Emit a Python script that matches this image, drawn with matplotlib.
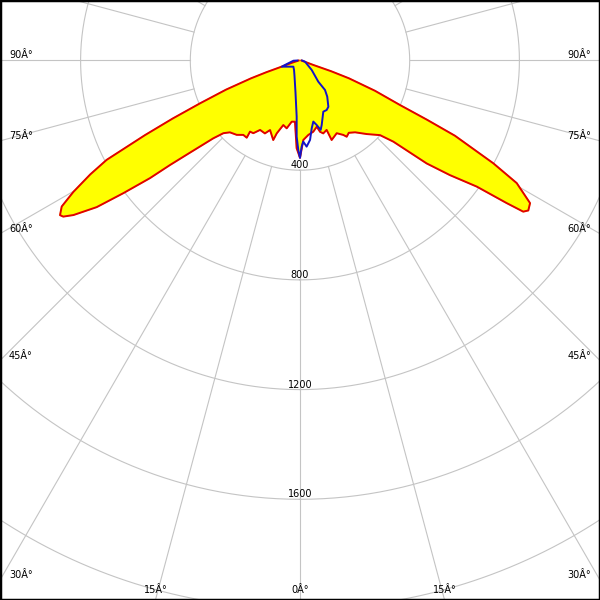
import numpy as np
import matplotlib
matplotlib.use('Agg')
import matplotlib.pyplot as plt
from matplotlib.patches import Rectangle

# luminous intensity (cd) against angle from nadir (deg)
# red plane, right half (C0) and left half (C180)
red_right_ang = [0, 2.4, 6.4, 10.6, 14.2, 15.7, 17.7, 21, 21.7, 26.8, 30.2, 31.5, 34, 37.5,
                 42.2, 47, 49, 50.9, 52.6, 54.5, 55.4, 55.9, 56.7, 58.2, 60.5, 62, 64.1,
                 65, 66, 68, 70, 71, 71.5, 75, 80, 90]
red_right_cd = [355, 290, 273, 264, 249, 270, 279, 271, 312, 297, 314, 326, 318, 330,
                362, 399, 451, 595, 688, 792, 916, 983, 996, 987, 908, 798, 628,
                510, 399, 295, 190, 120, 50, 20, 8, 5]
red_left_ang = [0, 1, 2.2, 4.7, 7.7, 11.1, 14.5, 17.7, 18.6, 23.3, 25.7, 29.9, 32.7, 35.1,
                34.6, 37.3, 40.4, 44.3, 46.5, 48.1, 50, 51.2, 51.9, 53.1, 54.2, 55.7, 56.6,
                57.2, 58.5, 59.9, 61.5, 62.8, 64.3, 65.5, 66.8, 68.5, 70, 70.8, 71.5, 75, 80, 90]
red_left_cd = [355, 338, 320, 224, 225, 252, 243, 279, 306, 276, 295, 292, 315, 317,
               342, 341, 356, 366, 385, 425, 520, 608, 695, 806, 914, 1000, 1034,
               1041, 1019, 955, 870, 793, 627, 510, 397, 290, 190, 130, 70, 25, 10, 5]

# blue plane, right half (C90) and left half (C270)
blue_right_ang = [0, 1.1, 2.3, 4.4, 7.2, 9.8, 12.3, 14.5, 16.6, 18.6, 24.5, 28.3, 31.5,
                  37, 40.3, 40.8, 51, 76.5, 90]
blue_right_cd = [355, 314, 296, 315, 292, 251, 228, 243, 264, 248, 205, 205, 198,
                 165, 141, 102, 55, 19, 8]
blue_left_ang = [0, 1.1, 2.5, 3.4, 8, 19.5, 32, 47, 71.3, 75, 88, 90]
blue_left_cd = [355, 326, 278, 205, 118, 60, 41, 33, 70, 50, 24, 10]

rings = [400, 800, 1200, 1600, 2000]
ring_labels = [400, 800, 1200, 1600]
angle_labels = [0, 15, 30, 45, 60, 75, 90]


def whole_curve(left_ang, left_cd, right_ang, right_cd):
    th = np.concatenate([-np.array(left_ang[::-1]), np.array(right_ang)])
    r = np.concatenate([np.array(left_cd[::-1]), np.array(right_cd)])
    return np.radians(th), r


W = 600
cx, cy = 300, 60.5          # pole position in pixels from top-left
px_per_cd = 109.7 / 400
rmax = 2400
rad_px = rmax * px_per_cd
grid_col = '#c4c4c4'

plt.rcParams['font.family'] = ['DejaVu Sans']
fig = plt.figure(figsize=(6, 6), dpi=100)
ax = fig.add_axes([(cx - rad_px) / W, (W - cy - rad_px) / W, 2 * rad_px / W, 2 * rad_px / W],
                  projection='polar')
ax.set_theta_zero_location('S')
ax.set_ylim(0, rmax)
ax.grid(False)
ax.set_xticks([])
ax.set_yticks([])
ax.spines['polar'].set_visible(False)

full = np.linspace(0, 2 * np.pi, 721)
for r in rings:
    ax.plot(full, np.full_like(full, r), color=grid_col, lw=0.8, zorder=1)
for a in range(0, 360, 15):
    ax.plot([np.radians(a)] * 2, [400, rmax], color=grid_col, lw=0.8, zorder=1)

th, r = whole_curve(red_left_ang, red_left_cd, red_right_ang, red_right_cd)
ax.fill(th, r, color='#ffff00', zorder=2)
ax.plot(th, r, color='#e00000', lw=1.4, zorder=3)

th, r = whole_curve(blue_left_ang, blue_left_cd, blue_right_ang, blue_right_cd)
ax.plot(th, r, color='#1414c8', lw=1.4, zorder=4)

for v in ring_labels:
    ax.text(0, v, str(v), ha='center', va='bottom', fontsize=7, zorder=5)

# angle labels where the spokes leave the picture
for a in angle_labels:
    t = np.radians(a)
    label = '%dÂ°' % a
    if a >= 30:
        y = cy + 300 / np.tan(t) if a < 90 else cy
        fig.text(9 / W, 1 - y / W, label, ha='left', va='bottom', fontsize=7)
        fig.text(591 / W, 1 - y / W, label, ha='right', va='bottom', fontsize=7)
    else:
        dx = (W - cy) * np.tan(t)
        for x in sorted({cx - dx, cx + dx}):
            fig.text(x / W, 1 - 595 / W, label, ha='center', va='bottom', fontsize=7)

fig.patches.append(Rectangle((0, 0), 1, 1, transform=fig.transFigure, fill=False,
                             edgecolor='black', lw=2.5))

fig.savefig('out.png', dpi=100)
